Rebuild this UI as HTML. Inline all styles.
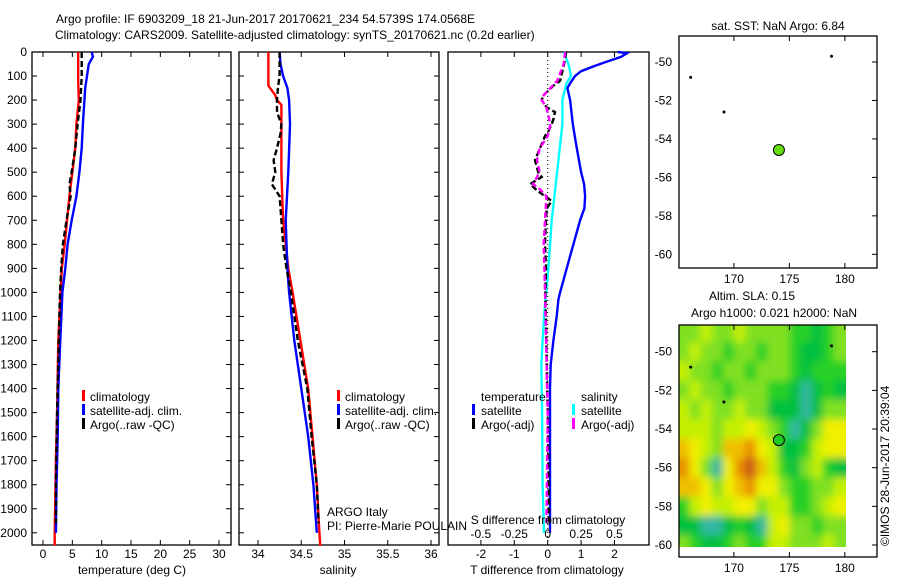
<!DOCTYPE html>
<html><head><meta charset="utf-8"><style>
html,body{margin:0;padding:0;background:#fff;}
svg{display:block;font-family:"Liberation Sans",sans-serif;font-size:12px;}
</style></head><body>
<svg id="fig" width="900" height="580" viewBox="0 0 900 580" xmlns="http://www.w3.org/2000/svg">
<defs>
<filter id="blur" filterUnits="userSpaceOnUse" x="650" y="300" width="230" height="270"><feGaussianBlur stdDeviation="4"/></filter>
<clipPath id="slaclip"><rect x="679" y="325" width="167" height="222"/></clipPath>
</defs>
<text x="56" y="23">Argo profile: IF 6903209_18 21-Jun-2017 20170621_234 54.5739S 174.0568E</text>
<text x="55" y="39">Climatology: CARS2009. Satellite-adjusted climatology: synTS_20170621.nc (0.2d earlier)</text>
<g clip-path="url(#slaclip)"><g id="sla" filter="url(#blur)"></g></g>
<g id="g"></g>
</svg>
<script>
// ---- data ----
const tClimDepth=[0,120,200,300,400,600,800,900,1000,1200,1500,1700,2000,2054];
const tClimVal=[6.0,6.0,6.1,5.7,5.5,4.5,3.7,3.2,3.0,2.6,2.4,2.2,2.0,2.0];
const tSatDepth=[0,20,50,100,150,300,400,500,600,700,800,900,1000,1200,1400,1600,1800,2000];
const tSatVal=[8.3,8.5,7.8,7.5,7.2,6.8,6.6,6.2,5.7,4.9,4.2,3.8,3.3,2.95,2.6,2.5,2.3,2.2];
const tArgoDepth=[0,100,200,300,400,500,550,600,700,800,900,1000,1200,1500,1800,1960];
const tArgoVal=[6.6,6.6,6.4,5.9,5.5,4.9,4.5,4.7,4.0,3.4,3.1,2.9,2.7,2.4,2.2,2.2];
const sClimDepth=[0,140,150,180,200,220,300,500,700,900,1000,1200,1400,1600,1800,2000,2054];
const sClimVal=[34.12,34.12,34.14,34.2,34.22,34.27,34.27,34.27,34.29,34.35,34.40,34.49,34.58,34.63,34.68,34.71,34.72];
const sSatDepth=[0,50,100,150,200,300,500,700,900,1000,1200,1400,1600,1800,2000];
const sSatVal=[34.25,34.26,34.29,34.34,34.36,34.37,34.35,34.32,34.34,34.36,34.42,34.5,34.58,34.64,34.68];
const sArgoDepth=[0,100,150,200,250,300,340,400,450,500,550,600,700,800,900,1000,1200,1400,1600,1800,1960];
const sArgoVal=[34.25,34.25,34.23,34.22,34.22,34.27,34.26,34.22,34.18,34.2,34.16,34.25,34.27,34.29,34.33,34.38,34.46,34.57,34.62,34.68,34.7];
const dTsatDepth=[0,5,20,40,60,80,100,130,150,200,300,400,500,550,600,650,700,800,900,1000,1030,1100,1200,1300,1400,2000];
const dTsatVal=[2.1,2.37,2.2,1.77,1.37,1.0,0.82,0.67,0.59,0.67,0.75,0.87,1.0,1.09,1.12,1.1,0.97,0.77,0.57,0.37,0.32,0.27,0.17,0.09,0.07,0.07];
const dSsatDepth=[0,50,100,130,200,300,500,700,900,1000,1100,1300,1500,1800,2000];
const dSsatVal=[0.12,0.155,0.175,0.14,0.11,0.11,0.07,0.03,0.005,-0.012,-0.028,-0.048,-0.042,-0.038,-0.028];
const dTargoDepth=[0,50,120,140,180,200,230,250,280,300,330,350,400,450,500,520,550,580,620,650,700,800,900,1000,1500,1960];
const dTargoVal=[0.55,0.49,0.37,0.17,-0.13,-0.18,-0.03,0.22,0.17,0.12,0.02,-0.08,-0.23,-0.38,-0.28,-0.18,-0.53,-0.28,0.12,-0.03,-0.05,-0.08,-0.05,-0.07,0.0,0.04];
const dSargoDepth=[0,50,120,150,180,200,230,300,350,400,450,500,550,570,600,700,800,900,1000,1500,1960];
const dSargoVal=[0.13,0.12,0.07,0.02,-0.03,-0.045,-0.01,0.02,0.0,-0.06,-0.08,-0.06,-0.11,-0.06,-0.01,-0.02,-0.03,-0.025,-0.02,0.0,-0.01];
const depthTicks=[0,100,200,300,400,500,600,700,800,900,1000,1100,1200,1300,1400,1500,1600,1700,1800,1900,2000];
const tTicks=[0,5,10,15,20,25,30];
const sTicks=[34,34.5,35,35.5,36];
const sTickLabels=["34","34.5","35","35.5","36"];
const dTTicks=[-2,-1,0,1,2];
const dSTicks=[-0.5,-0.25,0,0.25,0.5];
const dSTickLabels=["-0.5","-0.25","0","0.25","0.5"];
const lonTicks=[170,175,180];
const latTicks=[-50,-52,-54,-56,-58,-60];
const argoLon=174.0568, argoLat=-54.5739;
const islandLon=[166.1,169.1,178.8];
const islandLat=[-50.8,-52.6,-49.7];
const slaLats=[-49,-50,-51,-52,-53,-54,-55,-56,-57,-58,-59,-60];
const slaLons=[165,166,167,168,169,170,171,172,173,174,175,176,177,178,179];
const slaGrid=[
[3,3,4,3,3,4,3,3,3,3,2,2,1,2,3],
[3,4,3,3,2,3,3,2,3,3,2,1,1,2,3],
[4,3,3,2,3,3,2,3,3,3,2,1,2,2,2],
[3,4,3,3,2,3,3,3,2,2,1,0,1,2,1],
[4,3,4,3,3,4,3,3,1,1,1,0,1,3,3],
[4,4,4,3,4,4,5,4,3,2,0,1,3,5,5],
[6,5,4,3,6,6,7,5,4,1,1,2,4,5,5],
[7,5,3,0,5,7,8,6,4,2,1,3,4,2,1],
[6,6,5,3,5,6,7,5,5,3,2,2,3,3,4],
[2,4,5,4,4,5,5,3,4,4,2,2,3,4,5],
[1,1,0,0,1,2,1,0,4,5,3,3,2,3,3],
[3,2,1,1,2,3,2,2,4,4,3,3,3,4,3]];
const slaColors=["#30b8a0","#00c040","#28d028","#80e020","#c4f000","#f0f000","#f0c000","#e89000","#c85818"];

// ---- helpers ----
const NS="http://www.w3.org/2000/svg";
const G=document.getElementById('g');
const SLA=document.getElementById('sla');
function mk(tag,attrs,parent){const e=document.createElementNS(NS,tag);for(const k in attrs)e.setAttribute(k,attrs[k]);(parent||G).appendChild(e);return e;}
function txt(x,y,s,anchor){const e=mk('text',{x:x,y:y,'text-anchor':anchor||'start'});e.textContent=s;return e;}
const PT=52,PB=545,yD=d=>PT+d*0.2404;
function lin(d0,d1,p0,p1){return v=>p0+(v-d0)*(p1-p0)/(d1-d0);}
const xT=lin(0,30,43,219), xS=lin(34,36,258,431), xDT=lin(0,2,547.7,614.5), xDS=lin(0,0.5,547.7,614.5);
function profile(xs,ds,vs,col,dash,name){
  const pts=ds.map((d,i)=>xs(vs[i]).toFixed(1)+','+yD(d).toFixed(1)).join(' ');
  const e=mk('polyline',{points:pts,fill:'none',stroke:col,'stroke-width':2.4});
  if(dash)e.setAttribute('stroke-dasharray',dash);
  
  
}
function frame(x0,x1,name){
  const r=mk('rect',{x:x0,y:PT,width:x1-x0,height:PB-PT,fill:'none',stroke:'#000','stroke-width':1.3});
  
  
}
function legendMark(x,y,col){mk('rect',{x:x,y:y-10,width:3,height:11,fill:col});}

// ---- panel 1 ----
frame(32,231,'temperature-panel');
depthTicks.forEach(d=>{const y=yD(d);mk('line',{x1:32,x2:37,y1:y,y2:y,stroke:'#000'});mk('line',{x1:231,x2:226,y1:y,y2:y,stroke:'#000'});
  const t=txt(27,y+4,String(d),'end');});
tTicks.forEach(v=>{const x=xT(v);mk('line',{x1:x,x2:x,y1:PT,y2:PT+5,stroke:'#000'});mk('line',{x1:x,x2:x,y1:PB,y2:PB-5,stroke:'#000'});txt(x,558,String(v),'middle');});
profile(xT,tClimDepth,tClimVal,'#f00',null,'temp-climatology-line');
profile(xT,tSatDepth,tSatVal,'#00f',null,'temp-satellite-line');
profile(xT,tArgoDepth,tArgoVal,'#000','6,3','temp-argo-line');
{const t=txt(132,574,'temperature (deg C)','middle');}
legendMark(82,400,'#f00');txt(90,401,'climatology');
legendMark(82,414,'#00f');txt(90,415,'satellite-adj. clim.');
legendMark(82,428,'#000');txt(90,429,'Argo(..raw -QC)');

// ---- panel 2 ----
frame(239,439,'salinity-panel');
depthTicks.forEach(d=>{const y=yD(d);mk('line',{x1:239,x2:244,y1:y,y2:y,stroke:'#000'});mk('line',{x1:439,x2:434,y1:y,y2:y,stroke:'#000'});});
sTicks.forEach((v,i)=>{const x=xS(v);mk('line',{x1:x,x2:x,y1:PT,y2:PT+5,stroke:'#000'});mk('line',{x1:x,x2:x,y1:PB,y2:PB-5,stroke:'#000'});txt(x,558,sTickLabels[i],'middle');});
profile(xS,sClimDepth,sClimVal,'#f00',null,'sal-climatology-line');
profile(xS,sSatDepth,sSatVal,'#00f',null,'sal-satellite-line');
profile(xS,sArgoDepth,sArgoVal,'#000','6,3','sal-argo-line');
{const t=txt(338,574,'salinity','middle');}
legendMark(337,400,'#f00');txt(345,401,'climatology');
legendMark(337,414,'#00f');txt(345,415,'satellite-adj. clim.');
legendMark(337,428,'#000');txt(345,429,'Argo(..raw -QC)');
txt(327,516,'ARGO Italy');
txt(327,530,'PI: Pierre-Marie POULAIN');

// ---- panel 3 ----
frame(448,649,'difference-panel');
mk('line',{x1:547.7,x2:547.7,y1:PT,y2:PB,stroke:'#000','stroke-dasharray':'1,3'});
dTTicks.forEach(v=>{const x=xDT(v);mk('line',{x1:x,x2:x,y1:PT,y2:PT+5,stroke:'#000'});mk('line',{x1:x,x2:x,y1:PB,y2:PB-5,stroke:'#000'});txt(x,558,String(v),'middle');});
profile(xDS,dSsatDepth,dSsatVal,'#00ffff',null,'sal-diff-satellite-line');
profile(xDT,dTsatDepth,dTsatVal,'#00f',null,'temp-diff-satellite-line');
profile(xDT,dTargoDepth,dTargoVal,'#000','6,3','temp-diff-argo-line');
profile(xDS,dSargoDepth,dSargoVal,'#ff00ff','6,3','sal-diff-argo-line');
txt(548,524,'S difference from climatology','middle');
dSTicks.forEach((v,i)=>{txt(xDS(v),538,dSTickLabels[i],'middle');});
{const t=txt(547,574,'T difference from climatology','middle');}
txt(481,401,'temperature');txt(581,401,'salinity');
legendMark(472,414,'#00f');txt(481,415,'satellite');
legendMark(472,428,'#000');txt(481,429,'Argo(-adj)');
legendMark(572,414,'#00ffff');txt(581,415,'satellite');
legendMark(572,428,'#ff00ff');txt(581,429,'Argo(-adj)');

// ---- maps ----
const mx=lin(165.05,182.9,679,877);
function mapAxes(top,bot,lat50y,lat60y,name){
  const my=lin(-50,-60,lat50y,lat60y);
  const r=mk('rect',{x:679,y:top,width:198,height:bot-top,fill:'none',stroke:'#000','stroke-width':1.3});
  
  
  lonTicks.forEach(v=>{const x=mx(v);mk('line',{x1:x,x2:x,y1:top,y2:top+5,stroke:'#000'});mk('line',{x1:x,x2:x,y1:bot,y2:bot-5,stroke:'#000'});txt(x,bot+15,String(v),'middle');});
  latTicks.forEach(v=>{const y=my(v);mk('line',{x1:877,x2:872,y1:y,y2:y,stroke:'#000'});txt(672,y+4,String(v),'end');});
  return my;
}
const my1=mapAxes(36,268,62,254.3,'sst-map');
txt(778,30,'sat. SST: NaN Argo: 6.84','middle');
islandLon.forEach((lo,i)=>{const c=mk('circle',{cx:mx(lo),cy:my1(islandLat[i]),r:1.5,fill:'#000'});});
{const c=mk('circle',{cx:mx(argoLon),cy:my1(argoLat),r:5.5,fill:'#66dd11',stroke:'#000','stroke-width':1});}

const my2=lin(-50,-60,351.7,545);
const nR=slaGrid.length, nC=slaLons.length;
slaGrid.forEach((row,ri)=>{row.forEach((lv,ci)=>{
  let x0=mx(slaLons[ci]),x1=mx(slaLons[ci]+1);
  let y0=my2(slaLats[ri]+0.5),y1=my2(slaLats[ri]-0.5);
  if(ci===0)x0-=20; if(ci===nC-1)x1+=20;
  if(ri===0)y0-=20; if(ri===nR-1)y1+=20;
  const c=mk('rect',{x:x0.toFixed(1),y:y0.toFixed(1),width:(x1-x0+0.5).toFixed(1),height:(y1-y0+0.5).toFixed(1),fill:slaColors[lv]},SLA);
  
  
});});
mapAxes(325,557,351.7,545,'sla-map');
txt(752,300,'Altim. SLA: 0.15','middle');
txt(774,317,'Argo h1000: 0.021 h2000: NaN','middle');
islandLon.forEach((lo,i)=>{const c=mk('circle',{cx:mx(lo),cy:my2(islandLat[i]),r:1.5,fill:'#000'});});
{const c=mk('circle',{cx:mx(argoLon),cy:my2(argoLat),r:5.5,fill:'#22cc22',stroke:'#000','stroke-width':1});}
{const t=mk('text',{x:0,y:0,transform:'translate(889,546) rotate(-90)'});t.textContent='©IMOS 28-Jun-2017 20:39:04';}
</script>
</body></html>
